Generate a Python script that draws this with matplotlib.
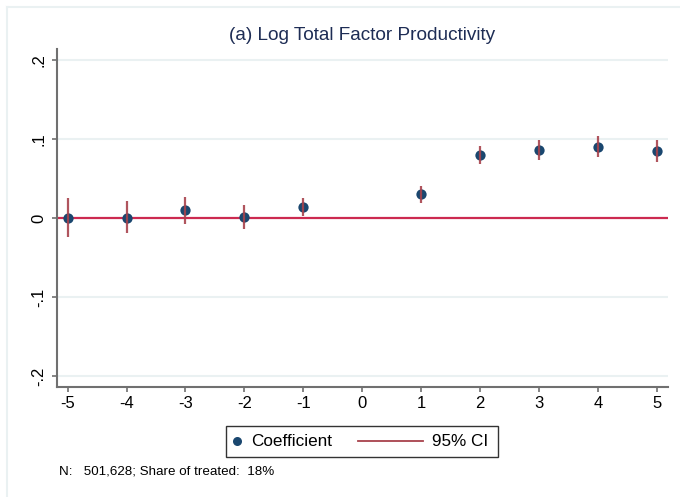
import matplotlib
matplotlib.use('Agg')
import matplotlib.pyplot as plt
from matplotlib.lines import Line2D
from matplotlib.patches import Rectangle

# Event-study estimates (period 0 is the omitted reference)
periods = [-5, -4, -3, -2, -1, 1, 2, 3, 4, 5]
coef = [0.000, 0.000, 0.010, 0.001, 0.014, 0.030, 0.080, 0.086, 0.090, 0.085]
ci_low = [-0.024, -0.019, -0.008, -0.014, 0.002, 0.019, 0.068, 0.074, 0.077, 0.071]
ci_high = [0.025, 0.021, 0.027, 0.016, 0.025, 0.040, 0.091, 0.099, 0.104, 0.099]

x_ticks = [-5, -4, -3, -2, -1, 0, 1, 2, 3, 4, 5]
y_ticks = [-0.2, -0.1, 0.0, 0.1, 0.2]
y_labels = ['-.2', '-.1', '0', '.1', '.2']

title = '(a) Log Total Factor Productivity'
note = 'N:   501,628; Share of treated:  18%'

NAVY = '#1a476f'
CI_RED = '#a8424c'
ZERO_RED = '#cc2a50'
GRID = '#eaf1f2'
AXIS = '#707070'

plt.rcParams['font.family'] = ['Liberation Sans', 'DejaVu Sans']

W, H = 680, 497
fig = plt.figure(figsize=(W / 100, H / 100), dpi=100)


def fx(px):
    return px / W


def fy(py):
    return 1 - py / H


ax = fig.add_axes([fx(57), fy(387), fx(668) - fx(57), fy(49) - fy(387)])
ax.set_xlim(-5.18, 5.19)
ax.set_ylim(-0.214, 0.214)

for yv in y_ticks:
    if yv != 0:
        ax.axhline(yv, color=GRID, lw=1.5, zorder=0)
ax.axhline(0, color=ZERO_RED, lw=1.6, zorder=1)

ax.plot(periods, coef, 'o', color=NAVY, ms=7.4, mew=0, zorder=2)
ax.vlines(periods, ci_low, ci_high, color=CI_RED, lw=1.6, alpha=0.9, zorder=3)

ax.set_xticks(x_ticks)
ax.set_xticklabels([str(v) for v in x_ticks])
ax.set_yticks(y_ticks)
ax.set_yticklabels(y_labels, rotation=90, va='center')
ax.tick_params(axis='both', length=3.6, width=1.2, color=AXIS, labelsize=12)
ax.tick_params(axis='x', pad=3)
ax.tick_params(axis='y', pad=4)

for side in ['top', 'right']:
    ax.spines[side].set_visible(False)
for side in ['left', 'bottom']:
    ax.spines[side].set_color(AXIS)
    ax.spines[side].set_linewidth(1.5)

# outer graph-region border
fig.add_artist(Line2D([fx(7), 1], [fy(7), fy(7)], color=GRID, lw=1.5))
fig.add_artist(Line2D([fx(7), fx(7)], [fy(7), 0], color=GRID, lw=1.5))

fig.text(fx(362), fy(35), title, ha='center', va='center',
         fontsize=13.7, color='#1e2d55')

# legend box
fig.add_artist(Rectangle((fx(226), fy(456.5)), fx(498) - fx(226),
                         fy(425.5) - fy(456.5), fill=False,
                         edgecolor='#333333', lw=1.0))
mid = fy(441)
fig.add_artist(Line2D([fx(237)], [mid], marker='o', color=NAVY, ms=6.5, mew=0))
fig.text(fx(251.5), mid, 'Coefficient', ha='left', va='center', fontsize=12.3)
fig.add_artist(Line2D([fx(358), fx(423)], [mid, mid], color=CI_RED, lw=1.3))
fig.text(fx(432.5), mid, '95% CI', ha='left', va='center', fontsize=12.3)

fig.text(fx(59), fy(472), note, ha='left', va='center', fontsize=9.6)

fig.savefig('out.png', dpi=100)
